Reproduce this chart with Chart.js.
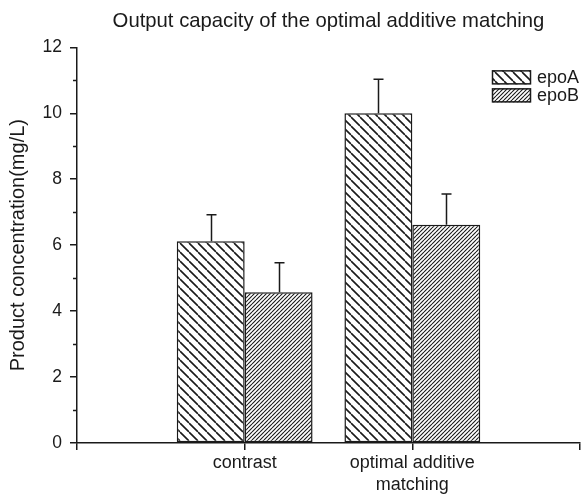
<!DOCTYPE html>
<html>
<head>
<meta charset="utf-8">
<script src="https://cdn.jsdelivr.net/npm/chart.js@4.4.1/dist/chart.umd.min.js"></script>
<style>
  html, body { margin: 0; padding: 0; background: #fff; }
  canvas { display: block; }
</style>
</head>
<body>
<canvas id="chart" width="582" height="494"></canvas>
<script>
// Product concentration per condition, mean and standard deviation (mg/L)
const categories = ['contrast', ['optimal additive', 'matching']];
const seriesNames = ['epoA', 'epoB'];
const epoA = [6.12, 10.0];
const epoB = [4.57, 6.62];
const epoAErr = [0.80, 1.03];
const epoBErr = [0.90, 0.93];
const yTickValues = [0, 2, 4, 6, 8, 10, 12];
const yMinorValues = [1, 3, 5, 7, 9, 11];

const FONT = "'Liberation Sans', Arial, Helvetica, sans-serif";
const INK = '#1a1a1a';

// Diagonal hatch fill; dir 'back' = "\" lines, 'fwd' = "/" lines
function hatch(step, dir, lw) {
  const c = document.createElement('canvas');
  c.width = c.height = step;
  const g = c.getContext('2d');
  g.fillStyle = '#fff';
  g.fillRect(0, 0, step, step);
  g.strokeStyle = INK;
  g.lineWidth = lw;
  g.beginPath();
  for (let k = -1; k <= 1; k++) {
    if (dir === 'back') {
      g.moveTo(0, k * step);
      g.lineTo(step, step + k * step);
    } else {
      g.moveTo(0, step + k * step);
      g.lineTo(step, k * step);
    }
  }
  g.stroke();
  return g.createPattern(c, 'repeat');
}

const fills = [hatch(9, 'back', 1.6), hatch(4, 'fwd', 1.1)];

// Empty end slots make the category axis run from edge to edge with ticks there
const axisLabels = ['', ...categories, ''];
const slot = arr => [null, ...arr, null];

const errorBars = {
  id: 'errorBars',
  afterDatasetsDraw(chart) {
    const ctx = chart.ctx;
    const y = chart.scales.y;
    ctx.save();
    ctx.strokeStyle = INK;
    ctx.lineWidth = 1.5;
    chart.data.datasets.forEach((ds, di) => {
      const meta = chart.getDatasetMeta(di);
      meta.data.forEach((bar, i) => {
        const v = ds.data[i];
        const e = ds.errors[i];
        if (v == null || e == null) return;
        const top = y.getPixelForValue(v + e);
        const x = Math.round(bar.x) + 0.5;
        ctx.beginPath();
        ctx.moveTo(x, bar.y);
        ctx.lineTo(x, top);
        ctx.moveTo(x - 5, top);
        ctx.lineTo(x + 5, top);
        ctx.stroke();
      });
    });
    ctx.restore();
  }
};

const minorTicks = {
  id: 'minorTicks',
  afterDraw(chart) {
    const ctx = chart.ctx;
    const y = chart.scales.y;
    const x0 = chart.chartArea.left;
    ctx.save();
    ctx.strokeStyle = INK;
    ctx.lineWidth = 1.5;
    ctx.beginPath();
    yMinorValues.forEach(v => {
      const py = Math.round(y.getPixelForValue(v)) + 0.5;
      ctx.moveTo(x0 - 4, py);
      ctx.lineTo(x0, py);
    });
    ctx.stroke();
    ctx.restore();
  }
};

const hatchLegend = {
  id: 'hatchLegend',
  afterDraw(chart) {
    const ctx = chart.ctx;
    const area = chart.chartArea;
    const bx = area.right - 88, by = area.top + 23;
    const bw = 39, bh = 14, gap = 18;
    ctx.save();
    chart.data.datasets.forEach((ds, i) => {
      const top = by + i * gap;
      ctx.fillStyle = ds.backgroundColor;
      ctx.fillRect(bx, top, bw, bh);
      ctx.strokeStyle = INK;
      ctx.lineWidth = 1.5;
      ctx.strokeRect(bx + 0.5, top + 0.5, bw - 1, bh - 1);
      ctx.fillStyle = INK;
      ctx.font = '18px ' + FONT;
      ctx.textBaseline = 'middle';
      ctx.textAlign = 'left';
      ctx.fillText(ds.label, bx + bw + 6, top + bh / 2 + 1);
    });
    ctx.restore();
  }
};

new Chart(document.getElementById('chart'), {
  type: 'bar',
  data: {
    labels: axisLabels,
    datasets: [
      { label: seriesNames[0], data: slot(epoA), errors: slot(epoAErr),
        backgroundColor: fills[0], borderColor: INK, borderWidth: 1.5, borderSkipped: false },
      { label: seriesNames[1], data: slot(epoB), errors: slot(epoBErr),
        backgroundColor: fills[1], borderColor: INK, borderWidth: 1.5, borderSkipped: false }
    ]
  },
  options: {
    responsive: false,
    animation: false,
    devicePixelRatio: 1,
    categoryPercentage: 0.81,
    barPercentage: 1.0,
    layout: { padding: { left: 0, right: 2, top: 0, bottom: 0 } },
    plugins: {
      legend: { display: false },
      tooltip: { enabled: false },
      title: {
        display: true,
        fullSize: false,
        text: 'Output capacity of the optimal additive matching',
        color: INK,
        font: { family: FONT, size: 20.3, weight: 'normal' },
        padding: { top: 9, bottom: 14 }
      }
    },
    scales: {
      x: {
        type: 'category',
        offset: false,
        grid: { offset: false, drawOnChartArea: false, drawTicks: true, tickLength: 7, color: INK, lineWidth: 1.5 },
        border: { display: true, color: INK, width: 1.5 },
        ticks: { autoSkip: false, maxRotation: 0, minRotation: 0, padding: 3, color: INK,
                 font: { family: FONT, size: 18, lineHeight: 1.17 } },
        afterFit(scale) {
          scale.height = 51;
          scale.paddingLeft = 0;
          scale.paddingRight = 0;
        }
      },
      y: {
        min: 0,
        max: 12,
        afterBuildTicks(scale) { scale.ticks = yTickValues.map(v => ({ value: v })); },
        grid: { drawOnChartArea: false, drawTicks: true, tickLength: 7, color: INK, lineWidth: 1.5 },
        border: { display: true, color: INK, width: 1.5 },
        ticks: { padding: 8, color: INK, font: { family: FONT, size: 17.5 } },
        title: {
          display: true,
          text: 'Product concentration(mg/L)',
          color: INK,
          font: { family: FONT, size: 20 },
          padding: { top: 6.5, bottom: 0 }
        },
        afterFit(scale) {
          scale.width = 77;
          scale.paddingTop = 0;
          scale.paddingBottom = 0;
        }
      }
    }
  },
  plugins: [errorBars, minorTicks, hatchLegend]
});
</script>
</body>
</html>
